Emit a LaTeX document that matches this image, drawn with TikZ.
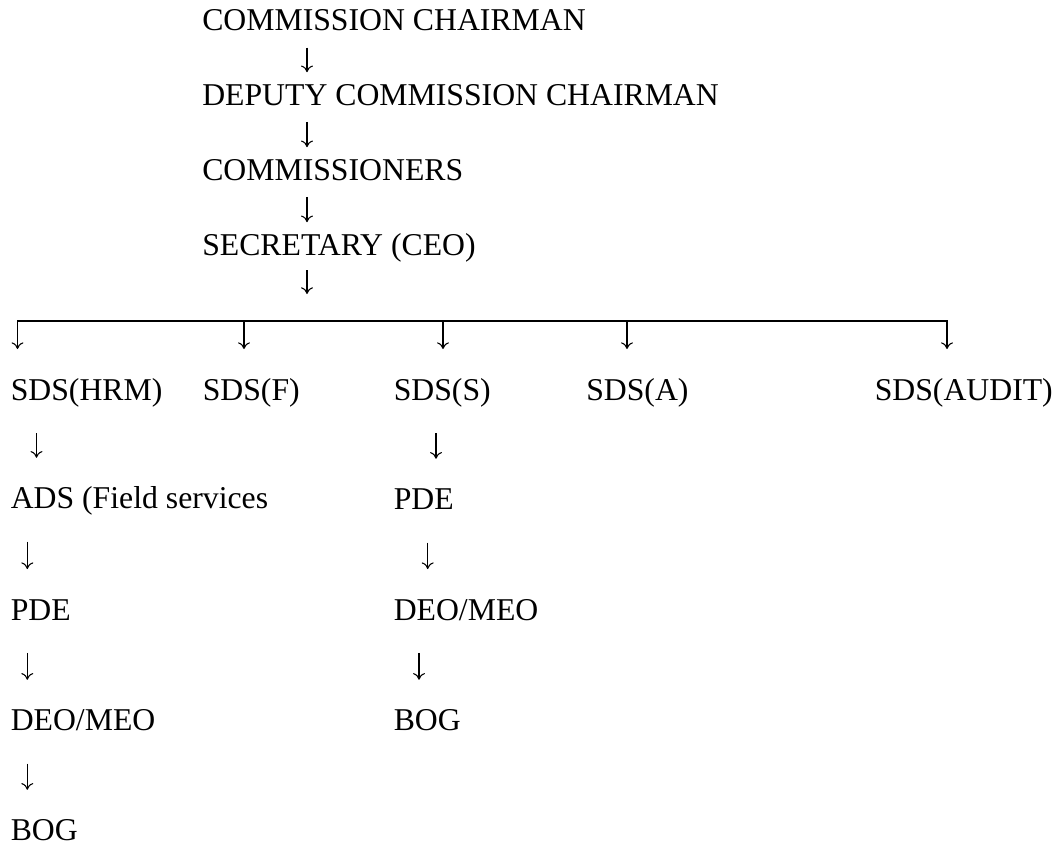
\documentclass[tikz,border=0pt]{standalone}
\usepackage{fontspec}
\setmainfont{Liberation Serif}
\usetikzlibrary{arrows.meta}
\tikzset{
  lbl/.style={inner sep=0pt, anchor=base west, text height=16.5pt, text depth=0pt, font=\fontsize{23.8pt}{28pt}\selectfont},
  arr/.style={line width=0.8pt, -{To[length=5pt,width=9pt]}},
  toparr/.style={arr, shorten <=12.4pt, shorten >=7.9pt},
  subarr/.style={arr, shorten <=24.5pt, shorten >=21.5pt},
  bararr/.style={arr, shorten >=21.75pt},
  barline/.style={line width=1.3pt, line cap=rect}
}
\begin{document}
\begin{tikzpicture}[x=0.75pt, y=-0.75pt]
\useasboundingbox (0,0) rectangle (1060,846);
% main column
\node[lbl] (chair) at (202,30.7) {COMMISSION CHAIRMAN};
\node[lbl] (deputy) at (202,105) {DEPUTY COMMISSION CHAIRMAN};
\node[lbl] (comm) at (202,180) {COMMISSIONERS};
\node[lbl] (sec) at (202,255) {SECRETARY (CEO)};
\coordinate (ax) at (307,0);
\draw[toparr] (chair.south -| ax) -- (deputy.north -| ax);
\draw[toparr] (deputy.south -| ax) -- (comm.north -| ax);
\draw[toparr] (comm.south -| ax) -- (sec.north -| ax);
% bar
\coordinate (b1) at (17.5,321);
\coordinate (b2) at (244,321);
\coordinate (b3) at (443,321);
\coordinate (b4) at (627,321);
\coordinate (b5) at (947,321);
\draw[arr, shorten <=11.25pt, shorten >=20.25pt] (sec.south -| ax) -- (ax |- b1);
\draw[barline] (b1) -- (b5);
% SDS row
\node[lbl] (hrm) at (10.5,400.3) {SDS(HRM)};
\node[lbl] (f) at (202.5,400.3) {SDS(F)};
\node[lbl] (s) at (393.5,400.3) {SDS(S)};
\node[lbl] (a) at (586,400.3) {SDS(A)};
\node[lbl] (audit) at (874.5,400.3) {SDS(AUDIT)};
\draw[bararr] (b1) -- (hrm.north -| b1);
\draw[bararr] (b2) -- (f.north -| b2);
\draw[bararr] (b3) -- (s.north -| b3);
\draw[bararr] (b4) -- (a.north -| b4);
\draw[bararr] (b5) -- (audit.north -| b5);
% left column
\node[lbl] (ads) at (10.5,508.7) {ADS (Field services};
\node[lbl] (pde1) at (10.5,620) {PDE};
\node[lbl] (deo1) at (10.5,730.7) {DEO/MEO};
\node[lbl] (bog1) at (10.5,840.7) {BOG};
\coordinate (c1a) at (36.5,0);
\coordinate (c1b) at (27.3,0);
\draw[subarr] (hrm.south -| c1a) -- (ads.north -| c1a);
\draw[subarr] (ads.south -| c1b) -- (pde1.north -| c1b);
\draw[subarr] (pde1.south -| c1b) -- (deo1.north -| c1b);
\draw[subarr] (deo1.south -| c1b) -- (bog1.north -| c1b);
% middle column
\node[lbl] (pde2) at (393.5,509.7) {PDE};
\node[lbl] (deo2) at (393.5,620) {DEO/MEO};
\node[lbl] (bog2) at (393.5,730.7) {BOG};
\coordinate (c2a) at (436,0);
\coordinate (c2b) at (427.7,0);
\coordinate (c2c) at (419,0);
\draw[subarr] (s.south -| c2a) -- (pde2.north -| c2a);
\draw[subarr] (pde2.south -| c2b) -- (deo2.north -| c2b);
\draw[subarr] (deo2.south -| c2c) -- (bog2.north -| c2c);
\end{tikzpicture}
\end{document}
